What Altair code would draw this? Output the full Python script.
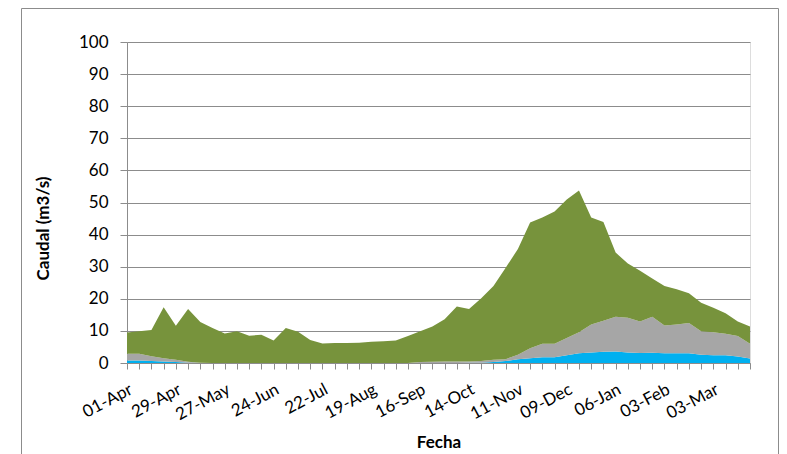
import altair as alt
import pandas as pd

fechas = ["01-Apr", "08-Apr", "15-Apr", "22-Apr", "29-Apr", "06-May", "13-May", "20-May",
          "27-May", "03-Jun", "10-Jun", "17-Jun", "24-Jun", "01-Jul", "08-Jul", "15-Jul",
          "22-Jul", "29-Jul", "05-Aug", "12-Aug", "19-Aug", "26-Aug", "02-Sep", "09-Sep",
          "16-Sep", "23-Sep", "30-Sep", "07-Oct", "14-Oct", "21-Oct", "28-Oct", "04-Nov",
          "11-Nov", "18-Nov", "25-Nov", "02-Dec", "09-Dec", "16-Dec", "23-Dec", "30-Dec",
          "06-Jan", "13-Jan", "20-Jan", "27-Jan", "03-Feb", "10-Feb", "17-Feb", "24-Feb",
          "03-Mar", "10-Mar", "17-Mar", "24-Mar"]

azul = [0.8, 0.8, 0.6, 0.5, 0.3, 0.1, 0, 0, 0, 0, 0, 0, 0, 0, 0, 0, 0, 0, 0, 0,
        0, 0, 0, 0, 0, 0, 0, 0, 0.1, 0.1, 0.3, 0.6, 1.2, 1.5, 1.8, 1.8, 2.4, 3.0, 3.3, 3.5,
        3.6, 3.3, 3.1, 3.2, 3.0, 3.0, 3.0, 2.6, 2.4, 2.4, 2.0, 1.4]

gris = [2.1, 2.1, 1.5, 1.0, 0.7, 0.3, 0.1, 0, 0, 0, 0, 0, 0, 0, 0, 0, 0, 0, 0, 0,
        0, 0, 0, 0, 0.3, 0.4, 0.5, 0.5, 0.4, 0.5, 0.7, 0.6, 1.4, 3.1, 4.2, 4.2, 5.4, 6.6, 8.7, 9.7,
        10.8, 10.8, 9.8, 11.2, 8.7, 9.0, 9.5, 7.3, 7.2, 6.7, 6.4, 4.6]

verde = [6.6, 7.0, 8.2, 15.9, 10.6, 16.4, 12.7, 10.9, 9.2, 9.9, 8.5, 8.8, 7.0, 10.9, 9.7, 7.2,
         6.1, 6.2, 6.2, 6.3, 6.6, 6.8, 7.0, 8.4, 9.6, 11.0, 13.1, 17.1, 16.3, 19.6, 23.0, 28.5,
         32.9, 39.2, 39.3, 41.2, 43.1, 44.1, 33.3, 30.7, 20.0, 16.9, 15.8, 11.9, 12.3, 11.0,
         9.2, 8.9, 7.6, 6.4, 4.5, 5.4]

series = ["azul", "gris", "verde"]
colores = ["#00B0F0", "#A6A6A6", "#77933C"]
valores_y = [0, 10, 20, 30, 40, 50, 60, 70, 80, 90, 100]

rows = []
for orden, (nombre, vals) in enumerate(zip(series, [azul, gris, verde])):
    for f, v in zip(fechas, vals):
        rows.append({"fecha": f, "caudal": v, "serie": nombre, "orden": orden})
df = pd.DataFrame(rows)

mostradas = fechas[::4]
label_expr = ("indexof([" + ",".join("'%s'" % s for s in mostradas) +
              "], datum.value) >= 0 ? datum.value : ''")

FONT = "Lato"
GRID = "#8c8c8c"

area = alt.Chart(df).mark_area(opacity=1, interpolate="linear").encode(
    x=alt.X("fecha:O", sort=fechas, scale=alt.Scale(type="point", padding=0),
            axis=alt.Axis(title="Fecha", labelExpr=label_expr, labelAngle=-28,
                          labelAlign="right", labelBaseline="top", labelOverlap=False,
                          labelPadding=12, tickSize=6, tickColor=GRID, domainColor=GRID,
                          grid=False, labelFont=FONT, labelFontSize=17, labelColor="#000000",
                          titleFont=FONT, titleFontSize=17, titleFontWeight="bold",
                          titleColor="#000000", titleY=84, titleBaseline="alphabetic")),
    y=alt.Y("caudal:Q", stack="zero", scale=alt.Scale(domain=[0, 100], nice=False),
            axis=alt.Axis(title="Caudal (m3/s)", values=valores_y, tickSize=7,
                          labelPadding=12, tickColor=GRID, domainColor=GRID, grid=True,
                          gridColor=GRID, labelFont=FONT, labelFontSize=17,
                          labelColor="#000000", titleFont=FONT, titleFontSize=17,
                          titleFontWeight="bold", titleColor="#000000", titleX=-84,
                          titleY=186, titleBaseline="middle", titleAlign="center")),
    color=alt.Color("serie:N", scale=alt.Scale(domain=series, range=colores), legend=None),
    order=alt.Order("orden:Q", sort="ascending"),
)

borde = alt.Chart(pd.DataFrame({"a": [0]})).mark_rect(
    fill=None, stroke="#8c8c8c", strokeWidth=1
).encode(
    x=alt.value(-105.5), x2=alt.value(651.5), y=alt.value(-33.5), y2=alt.value(520)
)

chart = alt.layer(area, borde).properties(
    width=623, height=321,
    autosize=alt.AutoSizeParams(type="none"),
    padding={"left": 119, "top": 34, "right": 29, "bottom": 92},
).configure_view(stroke=None).configure(background="white")

chart.save("out.html", embed_options={"renderer": "svg", "actions": False})
